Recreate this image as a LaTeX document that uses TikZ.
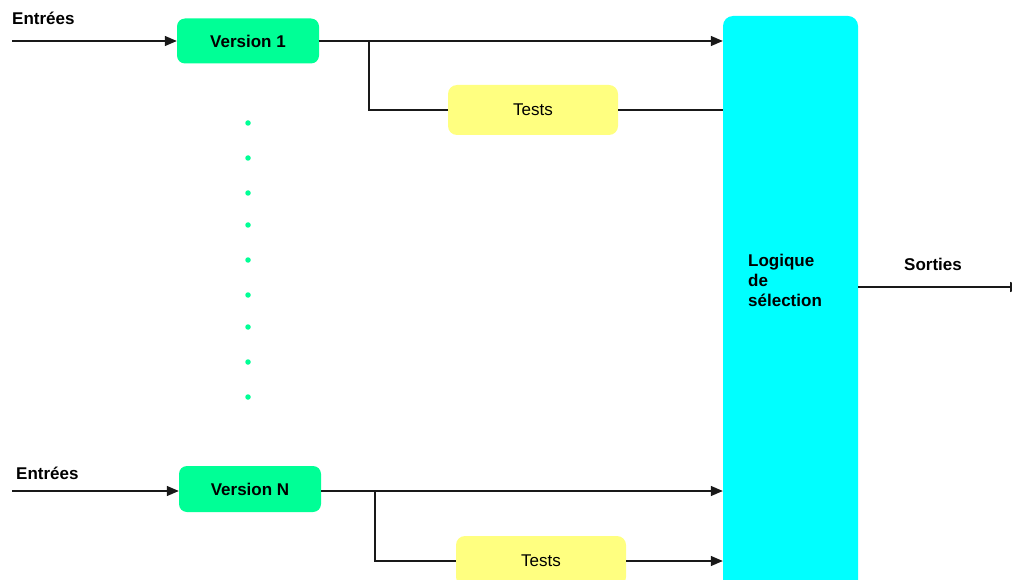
\documentclass[tikz,border=0pt]{standalone}
\usepackage{fontspec}
\setmainfont{Liberation Sans}
\usetikzlibrary{arrows.meta}
\definecolor{vgreen}{RGB}{0,255,150}
\definecolor{tyellow}{RGB}{255,255,128}
\definecolor{selcyan}{RGB}{0,255,255}
\begin{document}
\begin{tikzpicture}[x=1pt,y=-1pt,
  every node/.style={font=\fontsize{17}{20}\selectfont, inner sep=0pt},
  version/.style={fill=vgreen, rounded corners=8pt, minimum width=142pt,
    minimum height=45pt, font=\fontsize{17}{20}\selectfont\bfseries},
  tests/.style={fill=tyellow, rounded corners=9pt, minimum width=170pt, minimum height=50pt},
  tag/.style={font=\fontsize{17}{20}\selectfont\bfseries, anchor=base west},
  link/.style={line width=1.3pt, black!90},
  arr/.style={link, -{Triangle[length=12pt,width=10pt]}},
  vdot/.style={circle, fill=vgreen, minimum size=5.5pt}
]
\clip (0,0) rectangle (1012,580);
\fill[white] (0,0) rectangle (1012,580);

% selection logic block
\node[fill=selcyan, rounded corners=10pt, minimum width=135pt, minimum height=590pt]
  (sel) at (790.5,311) {};
\node[tag, align=left] (seltxt) at (748,306) {Logique\\de\\sélection};

% first version and its test
\node[version] (v1) at (248,41) {Version 1};
\node[tests] (t1) at (533,110) {Tests};
\coordinate (in1) at (12,41);
\node[tag] (e1) at (12,25) {Entrées};
\coordinate (b1) at (369,41);
\draw[arr] (in1) -- (v1.west);
\draw[arr] (v1.east) -- (v1.east -| sel.west);
\draw[link] (b1) |- (t1.west);
\draw[link] (t1.east) -- (t1.east -| sel.west);

% elided versions
\foreach \i/\yy in {1/123,2/158,3/193,4/225,5/260,6/295,7/327,8/362,9/397}
  \node[vdot] (d\i) at (248,\yy) {};

% last version and its test
\node[version, minimum height=46pt] (vN) at (250,489) {Version N};
\node[tests] (tN) at (541,561) {Tests};
\coordinate (inN) at (12,491);
\node[tag] (eN) at (16,479) {Entrées};
\coordinate (bN) at (375,491);
\draw[arr] (inN) -- (inN -| vN.west);
\draw[arr] (bN -| vN.east) -- (bN -| sel.west);
\draw[link] (bN) |- (tN.west);
\draw[arr] (tN.east) -- (tN.east -| sel.west);

% output
\coordinate (out) at (1022,287);
\node[tag] (so) at (904,270) {Sorties};
\draw[arr] (sel.east |- out) -- (out);
\end{tikzpicture}
\end{document}
